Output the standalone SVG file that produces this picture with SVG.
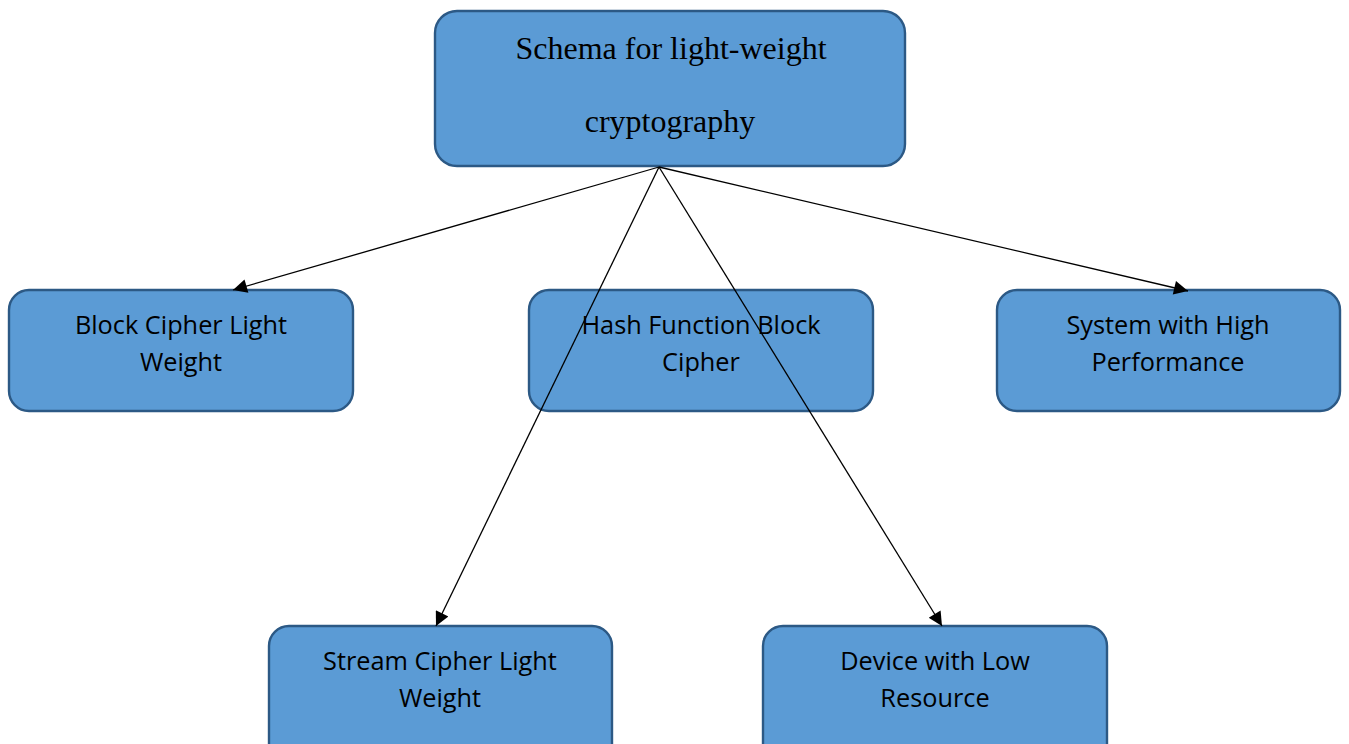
<svg xmlns="http://www.w3.org/2000/svg" width="1349" height="744" viewBox="0 0 1349 744">
<defs>
<style>
.box{fill:#5b9bd5;stroke:#2c5985;stroke-width:2.4}
.t{font-family:"Open Sans","Liberation Sans",sans-serif;font-size:25.3px;fill:#000;text-anchor:middle}
.ts{font-family:"Liberation Serif",serif;font-size:32px;fill:#000;text-anchor:middle}
.c{stroke:#000;stroke-width:1.3;fill:none}
</style>
<marker id="ah" viewBox="0 0 10 10" refX="10" refY="5" markerWidth="17" markerHeight="14" markerUnits="userSpaceOnUse" orient="auto">
<path d="M0,0 L10,5 L0,10 z" fill="#000"/>
</marker>
</defs>
<rect width="1349" height="744" fill="#fff"/>
<g id="root">
<rect class="box" x="435" y="11" width="470" height="155" rx="22"/>
<text class="ts" x="671" y="59">Schema for light-weight</text>
<text class="ts" x="670" y="132">cryptography</text>
</g>
<g id="block">
<rect class="box" x="9" y="290" width="344" height="121" rx="20"/>
<text class="t" x="181" y="334">Block Cipher Light</text>
<text class="t" x="181" y="371">Weight</text>
</g>
<g id="hash">
<rect class="box" x="529" y="290" width="344" height="121" rx="20"/>
<text class="t" x="701" y="334">Hash Function Block</text>
<text class="t" x="701" y="371">Cipher</text>
</g>
<g id="system">
<rect class="box" x="997" y="290" width="343" height="121" rx="20"/>
<text class="t" x="1168" y="334">System with High</text>
<text class="t" x="1168" y="371">Performance</text>
</g>
<g id="stream">
<rect class="box" x="269" y="626" width="343" height="140" rx="20"/>
<text class="t" x="440" y="670">Stream Cipher Light</text>
<text class="t" x="440" y="707">Weight</text>
</g>
<g id="device">
<rect class="box" x="763" y="626" width="344" height="140" rx="20"/>
<text class="t" x="935" y="670">Device with Low</text>
<text class="t" x="935" y="707">Resource</text>
</g>
<g id="connectors">
<line class="c" x1="659" y1="167" x2="233" y2="290" marker-end="url(#ah)"/>
<line class="c" x1="659" y1="167" x2="1188" y2="291" marker-end="url(#ah)"/>
<line class="c" x1="659" y1="167" x2="436" y2="626" marker-end="url(#ah)"/>
<line class="c" x1="659" y1="167" x2="942" y2="626" marker-end="url(#ah)"/>
</g>
</svg>
